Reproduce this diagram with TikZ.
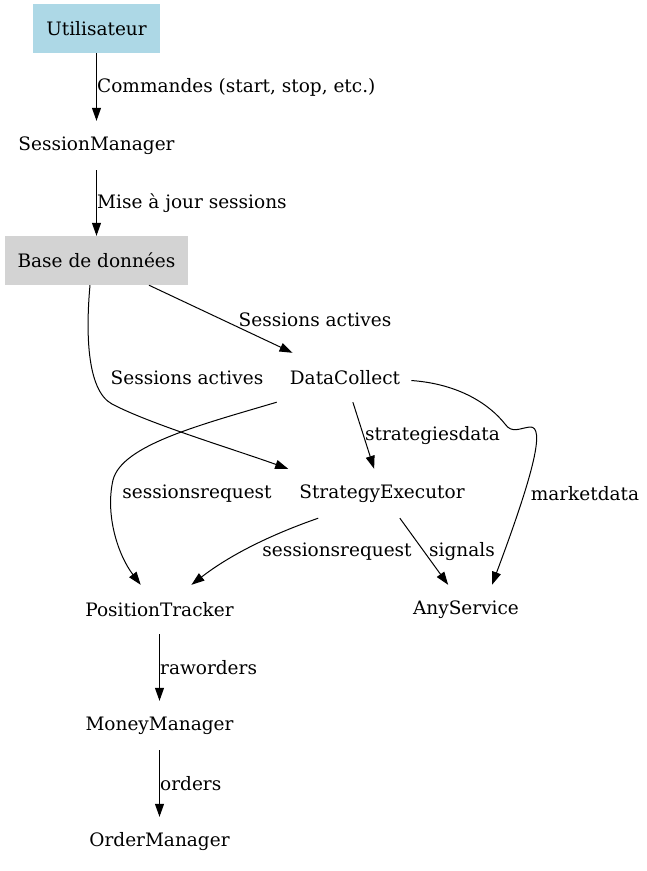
\documentclass[tikz,border=0pt]{standalone}
\usepackage{fontspec}
\setmainfont{DejaVu Serif}
\usetikzlibrary{arrows.meta}
\begin{document}
\begin{tikzpicture}[x=1pt,y=-1pt,
  lbl/.style={font=\fontsize{18.5}{20}\selectfont, inner sep=0pt, yshift=-1.5pt},
  nd/.style={font=\fontsize{18.5}{20}\selectfont, inner xsep=11pt, inner ysep=0pt, minimum height=49pt, yshift=-1.5pt},
  box/.style={font=\fontsize{18.5}{20}\selectfont, inner sep=0pt, minimum height=49pt},
  conn/.style={draw=black, line width=1pt, -{Triangle[length=13pt,width=9pt]}}]
\useasboundingbox (0,0) rectangle (646,871);
\node[box, fill={rgb,255:red,173;green,216;blue,230}, minimum width=127pt] (user) at (96.5,28.5) {Utilisateur};
\node[nd] (sm) at (96.5,144) {SessionManager};
\node[box, fill={rgb,255:red,211;green,211;blue,211}, minimum width=183pt] (db) at (96.5,260.5) {Base de données};
\node[nd] (dc) at (345,376) {DataCollect};
\node[nd] (se) at (382,492) {StrategyExecutor};
\node[nd] (pt) at (159.5,608) {PositionTracker};
\node[nd] (as) at (466,608) {AnyService};
\node[nd] (mm) at (159.5,724) {MoneyManager};
\node[nd] (om) at (159.5,840) {OrderManager};

\draw[conn] (user) -- (sm);
\draw[conn] (sm) -- (db);
\draw[conn] (db) -- (dc);
\draw[conn] ([xshift=-6.5pt]db.south) .. controls +(-4,44) and (86,390) .. (112,404) .. controls (150,424) and (230,448) .. (se.north west);
\draw[conn] (dc) -- (se);
\draw[conn] ([xshift=-2pt]dc.south west) .. controls (200,425) and (122,445) .. (113,480) .. controls (105,515) and (118,555) .. (pt);
\draw[conn] ([yshift=-3pt]dc.east) .. controls (460,384) and (490,405) .. (505,424) .. controls (512,434) and (520,428) .. (530,427) .. controls (545,426) and (535,470) .. ([xshift=26pt]as.north);
\draw[conn] ([xshift=30pt]se.south west) .. controls (270,535) and (230,555) .. (pt);
\draw[conn] (se) -- (as);
\draw[conn] (pt) -- (mm);
\draw[conn] (mm) -- (om);

\node[lbl, anchor=west] (l1) at (97,86) {Commandes (start, stop, etc.)};
\node[lbl, anchor=west] (l2) at (97,202) {Mise à jour sessions};
\node[lbl] (l3) at (315,318) {Sessions actives};
\node[lbl] (l4) at (187,376) {Sessions actives};
\node[lbl, anchor=west] (l5) at (365,434) {strategiesdata};
\node[lbl] (l6) at (197,492) {sessionsrequest};
\node[lbl] (l7) at (585,492) {marketdata};
\node[lbl] (l8) at (337,550) {sessionsrequest};
\node[lbl, anchor=west] (l9) at (429,550) {signals};
\node[lbl, anchor=west] (l10) at (160,666) {raworders};
\node[lbl, anchor=west] (l11) at (160,782) {orders};
\end{tikzpicture}
\end{document}
